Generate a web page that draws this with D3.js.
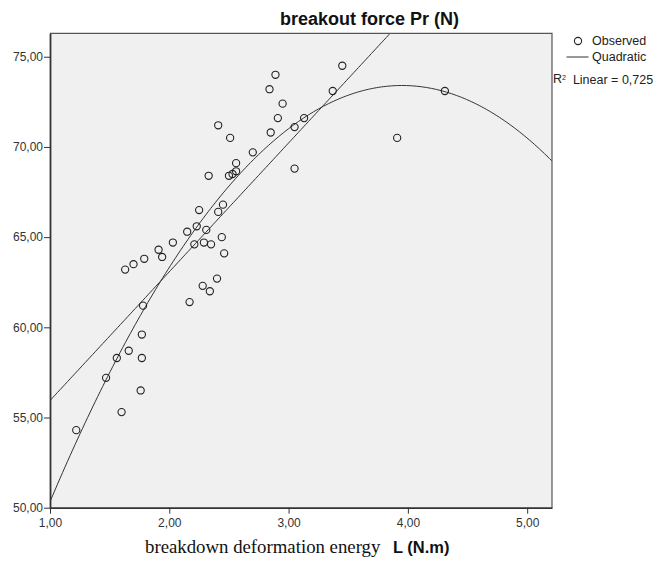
<!DOCTYPE html>
<html>
<head>
<meta charset="utf-8">
<script src="https://cdn.jsdelivr.net/npm/d3@7"></script>
<style>
    body { margin: 0; background: #fff; }
    svg { display: block; font-family: 'Liberation Sans', Arial, sans-serif; }
    .tickText { font-size: 12px; fill: #333; }
    .legendText { font-size: 12.5px; fill: #222; }
</style>
</head>
<body>
<svg id="chart" width="653" height="561"></svg>
<script>
// Observed values: breakdown deformation energy L (N.m) vs breakout force Pr (N).
var energyValues = [2.89, 2.84, 2.95, 2.91, 2.85, 3.05, 3.13, 2.41, 2.51, 2.70,
    2.56, 2.56, 2.53, 2.50, 2.33, 3.05, 2.45, 2.41, 2.25, 2.23,
    2.31, 2.44, 2.15, 2.03, 2.21, 2.29, 2.35, 2.46, 1.91, 1.94,
    1.79, 1.70, 1.63, 2.40, 2.28, 2.34, 2.17, 1.78, 1.77, 1.66,
    1.56, 1.77, 1.47, 1.76, 1.60, 1.22, 3.45, 3.37, 4.31, 3.91];
var forceValues = [74.0, 73.2, 72.4, 71.6, 70.8, 71.1, 71.6, 71.2, 70.5, 69.7,
    69.1, 68.65, 68.5, 68.4, 68.4, 68.8, 66.8, 66.4, 66.5, 65.6,
    65.4, 65.0, 65.3, 64.7, 64.6, 64.7, 64.6, 64.1, 64.3, 63.9,
    63.8, 63.5, 63.2, 62.7, 62.3, 62.0, 61.4, 61.2, 59.6, 58.7,
    58.3, 58.3, 57.2, 56.5, 55.3, 54.3, 74.5, 73.1, 73.1, 70.5];

// Fitted model coefficients (constant, b1, b2).
var linearCoef = [48.8, 7.14];
var quadraticCoef = [32.04, 20.94, -2.65];

var xTickValues = [1, 2, 3, 4, 5];
var yTickValues = [50, 55, 60, 65, 70, 75];
var xDomain = [1, 5.208];
var yDomain = [50, 76.3];

var titleText = 'breakout force Pr (N)';
var xLabelSerif = 'breakdown deformation energy';
var xLabelBold = 'L (N.m)';
var rSquaredText = '0,725';

var svg = d3.select('#chart'),
    plot = { left: 50, right: 552, top: 33.3, bottom: 507.7 },
    commaFormat = d3.formatLocale({ decimal: ',', thousands: '.', grouping: [3], currency: ['', ''] }).format('.2f');

var x = d3.scaleLinear().domain(xDomain).range([plot.left, plot.right]);
var y = d3.scaleLinear().domain(yDomain).range([plot.bottom, plot.top]);

// Plot background.
svg.append('rect')
    .attr('x', plot.left)
    .attr('y', plot.top)
    .attr('width', plot.right - plot.left)
    .attr('height', plot.bottom - plot.top)
    .attr('fill', '#f0f0f0');

svg.append('clipPath')
    .attr('id', 'plotClip')
    .append('rect')
    .attr('x', plot.left)
    .attr('y', plot.top)
    .attr('width', plot.right - plot.left)
    .attr('height', plot.bottom - plot.top);

// Fit lines, sampled over the x domain.
var samples = d3.range(0, 201).map(i => xDomain[0] + (xDomain[1] - xDomain[0]) * i / 200);
var fitLine = d3.line().x(d => x(d[0])).y(d => y(d[1]));
var fits = [
    samples.map(v => [v, linearCoef[0] + linearCoef[1] * v]),
    samples.map(v => [v, quadraticCoef[0] + quadraticCoef[1] * v + quadraticCoef[2] * v * v])
];

svg.append('g')
    .attr('clip-path', 'url(#plotClip)')
    .selectAll('path')
    .data(fits)
    .join('path')
    .attr('d', fitLine)
    .attr('fill', 'none')
    .attr('stroke', '#333')
    .attr('stroke-width', 1);

// Observed points.
svg.append('g')
    .selectAll('circle')
    .data(energyValues.map((v, i) => [v, forceValues[i]]))
    .join('circle')
    .attr('cx', d => x(d[0]))
    .attr('cy', d => y(d[1]))
    .attr('r', 3.6)
    .attr('fill', 'none')
    .attr('stroke', '#222')
    .attr('stroke-width', 1.1);

// Frame: thin top/right, heavier axes.
svg.append('path')
    .attr('d', `M${plot.left},${plot.top}H${plot.right}V${plot.bottom}`)
    .attr('fill', 'none')
    .attr('stroke', '#555')
    .attr('stroke-width', 1.2);

var xAxis = svg.append('g')
    .attr('transform', `translate(0,${plot.bottom})`)
    .call(d3.axisBottom(x).tickValues(xTickValues).tickFormat(commaFormat).tickSize(6).tickSizeOuter(0));
var yAxis = svg.append('g')
    .attr('transform', `translate(${plot.left},0)`)
    .call(d3.axisLeft(y).tickValues(yTickValues).tickFormat(commaFormat).tickSize(6).tickSizeOuter(0));

[xAxis, yAxis].forEach(function (axis) {
    axis.select('.domain').attr('stroke', '#333').attr('stroke-width', 1.8);
    axis.selectAll('.tick line').attr('stroke', '#333');
    axis.selectAll('.tick text')
        .attr('class', 'tickText')
        .attr('font-family', null)
        .attr('font-size', null)
        .attr('fill', null);
});
xAxis.selectAll('.tick text').attr('dy', '0.71em').attr('y', 11);
yAxis.selectAll('.tick text').attr('x', -7);

// Title.
svg.append('text')
    .attr('x', 369.5)
    .attr('y', 25)
    .attr('text-anchor', 'middle')
    .attr('font-size', '18px')
    .attr('font-weight', 'bold')
    .attr('fill', '#111')
    .text(titleText);

// X axis label: serif words then bold sans unit.
var xLabel = svg.append('text')
    .attr('x', 145)
    .attr('y', 553)
    .attr('fill', '#111');
xLabel.append('tspan')
    .attr('font-family', "'Liberation Serif', 'Times New Roman', serif")
    .attr('font-size', '18.8px')
    .text(xLabelSerif);
xLabel.append('tspan')
    .attr('x', 393)
    .attr('font-size', '16.5px')
    .attr('font-weight', 'bold')
    .text(xLabelBold);

// Legend.
var legend = svg.append('g');
legend.append('circle')
    .attr('cx', 578)
    .attr('cy', 41)
    .attr('r', 3.6)
    .attr('fill', 'none')
    .attr('stroke', '#222')
    .attr('stroke-width', 1.1);
legend.append('text')
    .attr('class', 'legendText')
    .attr('x', 592)
    .attr('y', 41)
    .attr('dy', '0.35em')
    .text('Observed');
legend.append('line')
    .attr('x1', 566.5)
    .attr('x2', 588.5)
    .attr('y1', 57)
    .attr('y2', 57)
    .attr('stroke', '#333')
    .attr('stroke-width', 1);
legend.append('text')
    .attr('class', 'legendText')
    .attr('x', 592)
    .attr('y', 57)
    .attr('dy', '0.35em')
    .text('Quadratic');

var rText = legend.append('text')
    .attr('class', 'legendText')
    .attr('x', 553)
    .attr('y', 79)
    .attr('dy', '0.35em');
rText.append('tspan').text('R');
rText.append('tspan').attr('font-size', '7px').attr('dy', '-0.5em').text('2');
rText.append('tspan').attr('dy', '0.3em').text('\u00a0 Linear = ' + rSquaredText);
</script>
</body>
</html>
